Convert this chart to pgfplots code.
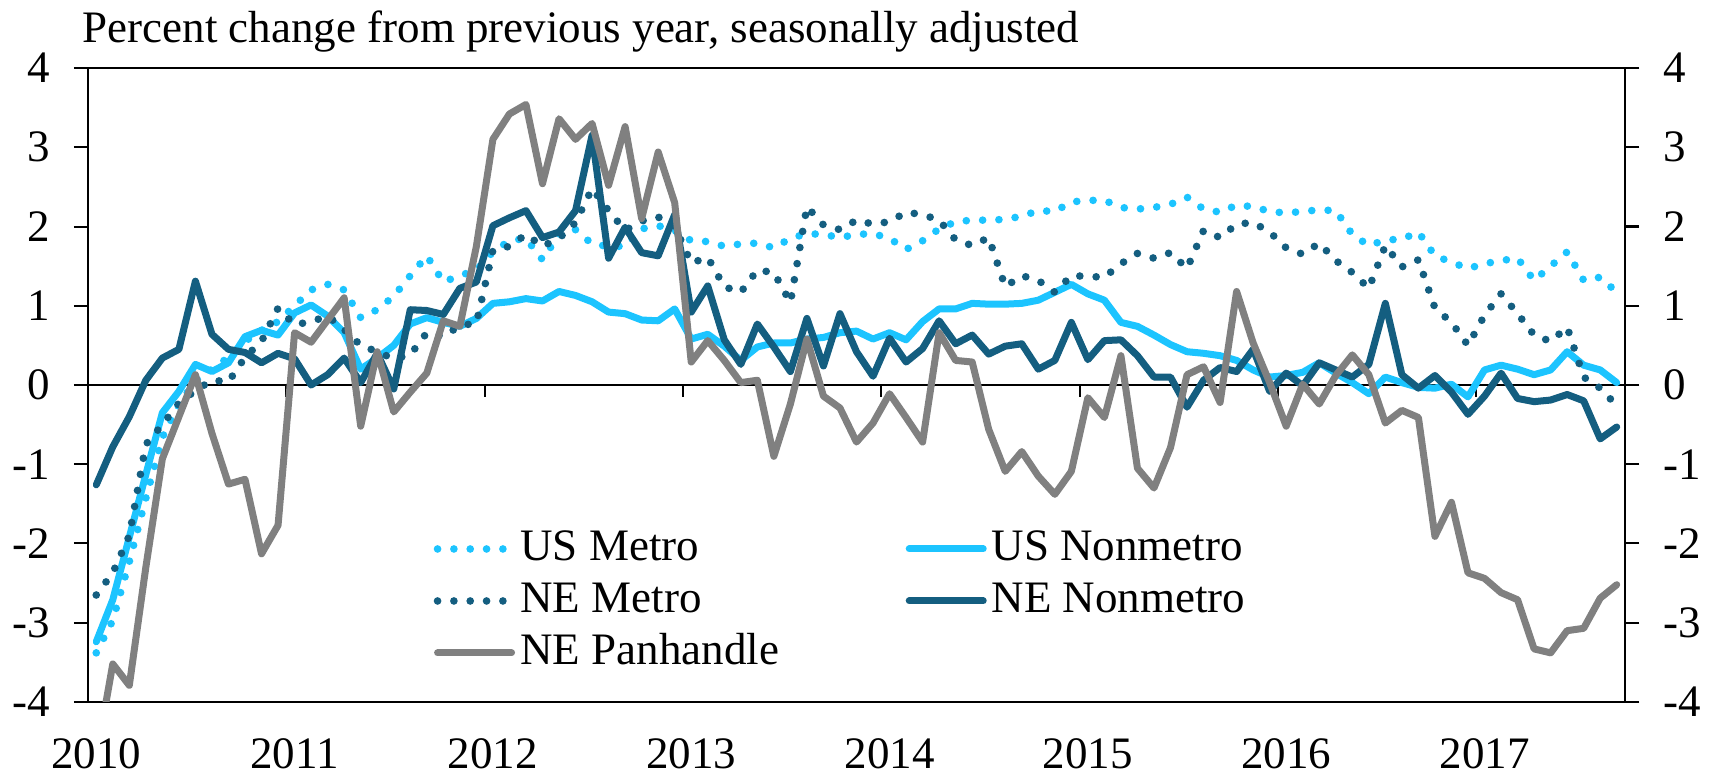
\documentclass[border=0pt]{standalone}
\usepackage{pgfplots}
\pgfplotsset{compat=1.18}
\usepackage{pgfplotstable}
\usepackage{fontspec}
\setmainfont{Liberation Serif}
\definecolor{lb}{RGB}{28,196,255}
\definecolor{db}{RGB}{20,94,128}
\definecolor{gr}{RGB}{128,128,128}
\newcommand\cf{\fontsize{13.5pt}{16pt}\selectfont}

\pgfplotstableread{
i usm usn nem nen pan
0 -3.38 -3.24 -2.65 -1.26 -4.70
1 -2.97 -2.71 -2.37 -0.78 -3.52
2 -2.23 -1.92 -1.90 -0.40 -3.79
3 -1.43 -1.13 -0.75 0.06 -2.30
4 -0.66 -0.35 -0.50 0.34 -0.93
5 -0.24 -0.08 -0.23 0.45 -0.40
6 0.05 0.26 -0.07 1.31 0.13
7 0.20 0.17 0.06 0.64 -0.61
8 0.35 0.28 0.04 0.45 -1.25
9 0.55 0.61 0.35 0.41 -1.19
10 0.69 0.69 0.55 0.28 -2.13
11 0.80 0.63 0.97 0.40 -1.77
12 1.00 0.91 0.76 0.33 0.66
13 1.20 1.01 0.80 0.00 0.54
14 1.27 0.87 0.87 0.13 0.82
15 1.20 0.66 0.70 0.34 1.10
16 0.85 0.20 0.50 0.03 -0.52
17 0.95 0.34 0.42 0.40 0.42
18 1.12 0.50 0.33 -0.05 -0.34
19 1.38 0.77 0.38 0.95 -0.09
20 1.63 0.85 0.66 0.94 0.15
21 1.30 0.79 0.61 0.89 0.81
22 1.38 0.74 0.75 1.22 0.74
23 1.45 0.84 0.78 1.30 1.75
24 1.68 1.03 1.70 2.01 3.10
25 1.82 1.05 1.75 2.11 3.42
26 1.85 1.09 1.90 2.20 3.54
27 1.58 1.06 1.75 1.86 2.54
28 1.90 1.18 1.85 1.93 3.36
29 1.96 1.13 2.05 2.20 3.10
30 1.78 1.05 2.48 3.15 3.30
31 1.75 0.92 2.20 1.60 2.52
32 1.75 0.90 1.95 1.99 3.26
33 1.97 0.82 2.07 1.67 2.10
34 2.01 0.81 2.12 1.63 2.94
35 1.95 0.96 2.00 2.15 2.30
36 1.82 0.58 1.54 0.92 0.29
37 1.81 0.64 1.61 1.25 0.56
38 1.75 0.49 1.24 0.57 0.31
39 1.78 0.31 1.17 0.26 0.03
40 1.79 0.48 1.45 0.77 0.06
41 1.73 0.53 1.42 0.48 -0.90
42 1.85 0.53 1.04 0.17 -0.24
43 1.91 0.58 2.25 0.84 0.58
44 1.90 0.60 2.02 0.24 -0.14
45 1.86 0.66 1.96 0.90 -0.29
46 1.90 0.68 2.08 0.42 -0.72
47 1.91 0.58 2.03 0.11 -0.48
48 1.85 0.66 2.06 0.59 -0.11
49 1.71 0.57 2.18 0.29 -0.41
50 1.82 0.80 2.15 0.46 -0.72
51 1.97 0.96 2.08 0.81 0.66
52 2.06 0.96 1.83 0.52 0.31
53 2.08 1.03 1.76 0.63 0.29
54 2.08 1.02 1.86 0.39 -0.56
55 2.09 1.02 1.24 0.49 -1.09
56 2.13 1.03 1.38 0.52 -0.84
57 2.20 1.07 1.32 0.20 -1.15
58 2.19 1.17 1.17 0.31 -1.38
59 2.31 1.27 1.38 0.79 -1.09
60 2.33 1.15 1.37 0.32 -0.16
61 2.33 1.07 1.36 0.56 -0.41
62 2.24 0.79 1.53 0.57 0.37
63 2.22 0.74 1.66 0.37 -1.05
64 2.24 0.63 1.60 0.10 -1.30
65 2.28 0.51 1.67 0.10 -0.79
66 2.37 0.42 1.47 -0.28 0.13
67 2.22 0.40 1.95 0.06 0.23
68 2.18 0.37 1.86 0.22 -0.22
69 2.27 0.31 2.03 0.17 1.18
70 2.25 0.19 2.05 0.45 0.53
71 2.19 0.10 1.93 -0.08 0.03
72 2.17 0.12 1.73 0.15 -0.52
73 2.19 0.16 1.65 -0.01 0.01
74 2.21 0.28 1.79 0.28 -0.24
75 2.20 0.15 1.57 0.19 0.12
76 1.90 0.03 1.42 0.10 0.38
77 1.76 -0.11 1.22 0.26 0.13
78 1.83 0.10 1.76 1.03 -0.48
79 1.84 0.03 1.49 0.13 -0.32
80 1.93 -0.03 1.58 -0.04 -0.41
81 1.63 -0.04 0.97 0.12 -1.91
82 1.55 0.01 0.79 -0.09 -1.48
83 1.47 -0.15 0.50 -0.37 -2.37
84 1.53 0.19 0.88 -0.14 -2.44
85 1.57 0.25 1.15 0.15 -2.62
86 1.60 0.20 0.90 -0.17 -2.71
87 1.32 0.13 0.63 -0.21 -3.33
88 1.50 0.19 0.55 -0.19 -3.38
89 1.68 0.42 0.73 -0.12 -3.10
90 1.32 0.25 0.10 -0.20 -3.07
91 1.36 0.19 -0.04 -0.68 -2.69
92 1.17 0.03 -0.26 -0.53 -2.52
}\data

\pgfplotsset{
  base/.style={scale only axis, width=461.1pt, height=190.2pt,
    xmin=-0.5, xmax=92.5, ymin=-4, ymax=4},
  dotl/.style={line width=2.3pt, dash pattern=on 0pt off 4.9pt, line cap=round},
  soll/.style={line width=2.1pt, line join=round, line cap=round},
}

\begin{document}
\begin{tikzpicture}
\path[use as bounding box] (-26.4pt,-22.2pt) rectangle (488.1pt,210.6pt);
% zero line with year ticks
\begin{axis}[base, axis x line=middle, axis y line=none,
  axis line style={-, line width=0.6pt},
  xtick={11.5,23.5,35.5,47.5,59.5,71.5,83.5}, xticklabels={},
  ytick=\empty, tick align=outside, major tick length=3.6pt,
  xtick style={line width=0.6pt, black}]
\addplot[draw=none] coordinates {(0,0)};
\end{axis}
% main axis
\begin{axis}[base, name=main,
  axis line style={line width=0.6pt},
  xtick={-0.5,11.5,23.5,35.5,47.5,59.5,71.5,83.5},
  xticklabels={2010,2011,2012,2013,2014,2015,2016,2017},
  xtick style={draw=none},
  ytick={-4,-3,-2,-1,0,1,2,3,4},
  yticklabels={-4,-3,-2,-1,0,1,2,3,4},
  ytick pos=both, yticklabel pos=left,
  tick align=outside, major tick length=4.2pt,
  ytick style={line width=0.6pt, black},
  tick label style={font=\cf},
  xticklabel style={xshift=2.5pt, yshift=-3.2pt},
  yticklabel style={xshift=-3.6pt},
  legend columns=2,
  legend cell align=left,
  legend style={draw=none, fill=none, at={(0.2245,0.2766)}, anchor=north west,
    font=\cf, inner sep=0pt, column sep=1.5pt, row sep=2.6pt,
    /tikz/every even column/.append style={column sep=38pt},
    nodes={inner sep=0pt, text height=10pt, text depth=3pt}},
  legend image code/.code={\draw[#1] (0pt,0pt) -- (22.2pt,0pt);},
]
\addplot[lb, dotl] table[x=i, y=usm] {\data};
\addlegendentry{US Metro}
\addplot[lb, soll] table[x=i, y=usn] {\data};
\addlegendentry{US Nonmetro}
\addplot[db, dotl] table[x=i, y=nem] {\data};
\addlegendentry{NE Metro}
\addplot[db, soll] table[x=i, y=nen] {\data};
\addlegendentry{NE Nonmetro}
\addplot[gr, soll] table[x=i, y=pan] {\data};
\addlegendentry{NE Panhandle}
\end{axis}
% right-hand labels
\begin{axis}[base, axis x line=none, axis y line*=right,
  axis line style={line width=0.6pt},
  ytick={-4,-3,-2,-1,0,1,2,3,4},
  yticklabels={-4,-3,-2,-1,0,1,2,3,4},
  tick align=outside, major tick length=4.2pt,
  ytick style={line width=0.6pt, black},
  tick label style={font=\cf},
  yticklabel style={xshift=3.9pt}]
\addplot[draw=none] coordinates {(0,0)};
\end{axis}
\node[anchor=base west, inner sep=0pt, font=\cf] at ([xshift=-1.8pt,yshift=7.7pt]main.north west) {Percent change from previous year, seasonally adjusted};
\end{tikzpicture}
\end{document}
